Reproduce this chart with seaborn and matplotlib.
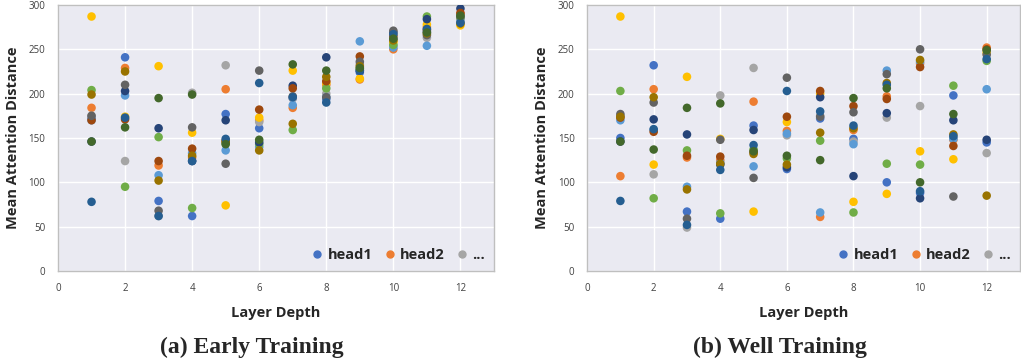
import numpy as np
import pandas as pd
import matplotlib
matplotlib.use("Agg")
import matplotlib.pyplot as plt
from matplotlib.lines import Line2D
import seaborn as sns

sns.set_theme(style="darkgrid")
plt.rcParams['font.family'] = ['Open Sans', 'DejaVu Sans']

# Data
layers = [1, 2, 3, 4, 5, 6, 7, 8, 9, 10, 11, 12]
heads = ["head%d" % i for i in range(1, 13)]

# Early training: one list per head, values per layer 1..12
early = {
    "head1":  [172, 241, 79, 62, 177, 161, 195, 194, 224, 262, 270, 285],
    "head2":  [184, 229, 119, 128, 205, 170, 184, 210, 216, 250, 275, 290],
    "head3":  [175, 124, 62, 201, 232, 168, 195, 200, 233, 254, 263, 283],
    "head4":  [287, 174, 231, 156, 74, 173, 226, 212, 217, 258, 278, 277],
    "head5":  [170, 198, 108, 133, 136, 140, 187, 196, 259, 252, 254, 281],
    "head6":  [204, 95, 151, 71, 144, 143, 159, 206, 228, 255, 287, 286],
    "head7":  [146, 203, 161, 124, 170, 145, 209, 241, 226, 269, 284, 296],
    "head8":  [170, 171, 124, 138, 146, 182, 206, 214, 242, 265, 272, 291],
    "head9":  [175, 210, 68, 162, 121, 226, 197, 196, 236, 271, 266, 287],
    "head10": [199, 225, 102, 130, 147, 136, 166, 219, 231, 260, 268, 279],
    "head11": [78, 173, 62, 124, 149, 212, 196, 190, 226, 267, 273, 280],
    "head12": [146, 162, 195, 199, 143, 148, 233, 226, 229, 262, 269, 288],
}

# Well training
well = {
    "head1":  [150, 232, 67, 59, 164, 115, 172, 149, 100, 88, 198, 145],
    "head2":  [107, 205, 128, 125, 191, 158, 61, 159, 197, 234, 148, 252],
    "head3":  [175, 109, 49, 198, 229, 153, 175, 146, 173, 186, 150, 133],
    "head4":  [287, 120, 219, 149, 67, 168, 200, 78, 87, 135, 126, 246],
    "head5":  [170, 159, 95, 122, 118, 155, 66, 143, 226, 236, 149, 205],
    "head6":  [203, 82, 136, 65, 137, 127, 147, 66, 121, 120, 209, 237],
    "head7":  [146, 171, 154, 120, 159, 117, 196, 107, 178, 82, 170, 148],
    "head8":  [173, 157, 130, 129, 134, 174, 203, 186, 194, 230, 141, 250],
    "head9":  [177, 190, 59, 148, 105, 218, 174, 179, 222, 250, 84, 244],
    "head10": [174, 196, 92, 121, 132, 120, 156, 161, 212, 238, 154, 85],
    "head11": [79, 160, 52, 114, 142, 203, 180, 164, 210, 90, 152, 239],
    "head12": [146, 137, 184, 189, 135, 130, 125, 195, 206, 100, 177, 249],
}

office = ["#4472C4", "#ED7D31", "#A5A5A5", "#FFC000", "#5B9BD5", "#70AD47",
          "#264478", "#9E480E", "#636363", "#997300", "#255E91", "#43682B"]
palette = dict(zip(heads, office))


def to_long(d):
    rows = []
    for h in heads:
        for layer, v in zip(layers, d[h]):
            rows.append({"layer": layer, "dist": v, "head": h})
    return pd.DataFrame(rows)


fig = plt.figure(figsize=(10.21, 3.64), dpi=100)
ax1 = fig.add_axes([0.0568, 0.2555, 0.427, 0.7308])
ax2 = fig.add_axes([0.575, 0.2555, 0.424, 0.7308])

panels = [(ax1, early, "(a) Early Training", 0.247),
          (ax2, well, "(b) Well Training", 0.764)]
for ax, d, title, tx in panels:
    df = to_long(d)
    sns.scatterplot(data=df, x="layer", y="dist", hue="head", palette=palette,
                    s=38, linewidth=0, legend=False, ax=ax, zorder=3)
    ax.set_xlim(0, 13)
    ax.set_ylim(0, 300)
    ax.set_xticks(range(0, 13, 2))
    ax.set_yticks(range(0, 301, 50))
    ax.tick_params(axis='both', labelsize=7, colors="#404040", pad=3)
    ax.set_xlabel("Layer Depth", fontsize=10.5, fontweight="bold", labelpad=8)
    ax.set_ylabel("Mean Attention Distance", fontsize=10.5, fontweight="bold", labelpad=6)
    for sp in ax.spines.values():
        sp.set_visible(True)
        sp.set_color("#BFBFBF")
        sp.set_linewidth(1)
    handles = [Line2D([], [], marker="o", linestyle="", color=c, markersize=5)
               for c in office[:3]]
    ax.legend(handles, ["head1", "head2", "..."], loc="lower right", ncol=3,
              frameon=False, handlelength=0.8, handletextpad=0.3, columnspacing=0.8,
              borderaxespad=0.2, prop={"weight": "bold", "size": 10.5})
    fig.text(tx, 0.045, title, ha="center", va="center",
             fontsize=17, fontweight="bold", family="Liberation Serif")

fig.savefig("out.png", dpi=100)
